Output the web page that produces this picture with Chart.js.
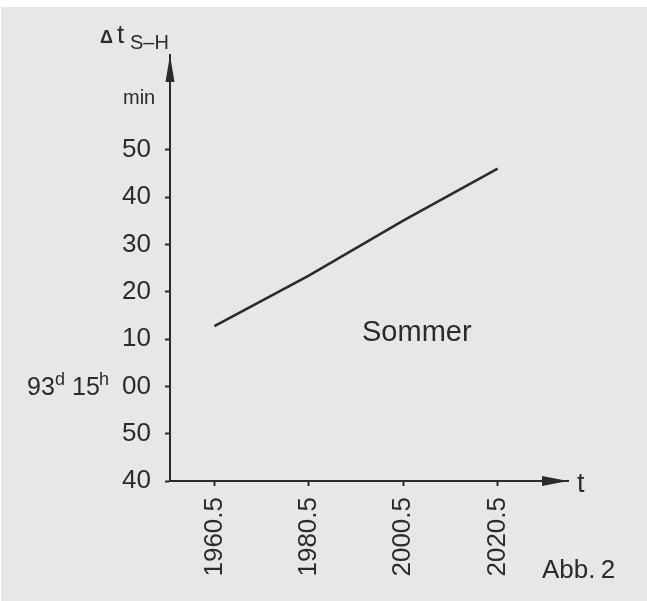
<!DOCTYPE html>
<html>
<head>
<meta charset="utf-8">
<script src="https://cdn.jsdelivr.net/npm/chart.js@4/dist/chart.umd.min.js"></script>
<style>
html,body{margin:0;padding:0;background:#fff;}
#wrap{width:647px;height:601px;position:relative;}
canvas{display:block;}
</style>
</head>
<body>
<div id="wrap"><canvas id="c" width="647" height="601"></canvas></div>
<script>
// Data (minutes relative to 93d 15h 00)
const years = [1960.5, 1980.5, 2000.5, 2020.5];
const sommerMinutes = [12.7, 23.4, 35.0, 46.0];
const xTickValues = [1960.5, 1980.5, 2000.5, 2020.5];
const xTickLabels = ['1960.5', '1980.5', '2000.5', '2020.5'];
const yTickValues = [-20, -10, 0, 10, 20, 30, 40, 50];
const yTickLabels = ['40', '50', '00', '10', '20', '30', '40', '50'];

const INK = '#2b2b2b';
const FONT = "'Liberation Sans', Arial, Helvetica, sans-serif";

const decor = {
  id: 'decor',
  beforeDraw(chart) {
    const ctx = chart.ctx;
    ctx.save();
    ctx.fillStyle = '#ffffff';
    ctx.fillRect(0, 0, chart.width, chart.height);
    ctx.fillStyle = '#e7e7e7';
    ctx.fillRect(1, 7, chart.width - 1, chart.height - 7);
    ctx.restore();
  },
  afterDraw(chart) {
    const ctx = chart.ctx;
    const a = chart.chartArea;
    ctx.save();
    ctx.fillStyle = INK;
    // y-axis arrowhead
    ctx.beginPath();
    ctx.moveTo(a.left, a.top);
    ctx.lineTo(a.left - 4.5, a.top + 27);
    ctx.lineTo(a.left + 4.5, a.top + 27);
    ctx.closePath();
    ctx.fill();
    // x-axis arrowhead
    ctx.beginPath();
    ctx.moveTo(a.right, a.bottom);
    ctx.lineTo(a.right - 26, a.bottom - 5);
    ctx.lineTo(a.right - 26, a.bottom + 5);
    ctx.closePath();
    ctx.fill();

    ctx.textAlign = 'left';
    ctx.textBaseline = 'alphabetic';
    // axis title  Δt S–H
    ctx.font = 'bold 18px ' + FONT;
    ctx.fillText('\u0394', 100, 43);
    ctx.font = '26px ' + FONT;
    ctx.fillText('t', 117, 43);
    ctx.font = '20px ' + FONT;
    ctx.fillText('S\u2013H', 130, 49);
    // unit
    ctx.font = '20px ' + FONT;
    ctx.fillText('min', 123, 104);
    // 93d 15h prefix
    const y0 = chart.scales.y.getPixelForValue(0) + 9;
    ctx.font = '25px ' + FONT;
    ctx.fillText('93', 27, y0);
    ctx.fillText('15', 72, y0);
    ctx.font = '18px ' + FONT;
    ctx.fillText('d', 55, y0 - 10);
    ctx.fillText('h', 99, y0 - 10);
    // x axis symbol
    ctx.font = '27px ' + FONT;
    ctx.fillText('t', 577, a.bottom + 11);
    // series label
    ctx.font = '29px ' + FONT;
    ctx.fillText('Sommer', 362, 341);
    // figure number
    ctx.font = '26px ' + FONT;
    ctx.fillText('Abb.\u20092', 542, 578);
    ctx.restore();
  }
};

new Chart(document.getElementById('c'), {
  type: 'line',
  data: {
    datasets: [{
      label: 'Sommer',
      data: years.map((x, i) => ({ x: x, y: sommerMinutes[i] })),
      borderColor: INK,
      borderWidth: 2.6,
      pointRadius: 0,
      tension: 0,
      fill: false
    }]
  },
  options: {
    responsive: false,
    animation: false,
    devicePixelRatio: 1,
    layout: { padding: { top: 55, right: 79, left: 0, bottom: 0 } },
    plugins: { legend: { display: false }, tooltip: { enabled: false } },
    scales: {
      x: {
        type: 'linear',
        min: 1951.1,
        max: 2035.4,
        afterBuildTicks: s => { s.ticks = xTickValues.map(v => ({ value: v })); },
        afterFit: s => { s.height = 120; },
        ticks: {
          callback: v => xTickLabels[xTickValues.indexOf(v)],
          minRotation: 90,
          maxRotation: 90,
          autoSkip: false,
          padding: 11,
          color: INK,
          font: { family: FONT, size: 26 }
        },
        grid: { drawOnChartArea: false, tickLength: 5, tickWidth: 2, tickColor: INK },
        border: { color: INK, width: 2 }
      },
      y: {
        min: -20,
        max: 70,
        afterBuildTicks: s => { s.ticks = yTickValues.map(v => ({ value: v })); },
        afterFit: s => { s.width = 170; },
        ticks: {
          callback: v => yTickLabels[yTickValues.indexOf(v)],
          padding: 14,
          color: INK,
          font: { family: FONT, size: 26 }
        },
        grid: { drawOnChartArea: false, tickLength: 5, tickWidth: 2, tickColor: INK },
        border: { color: INK, width: 2 }
      }
    }
  },
  plugins: [decor]
});
</script>
</body>
</html>
